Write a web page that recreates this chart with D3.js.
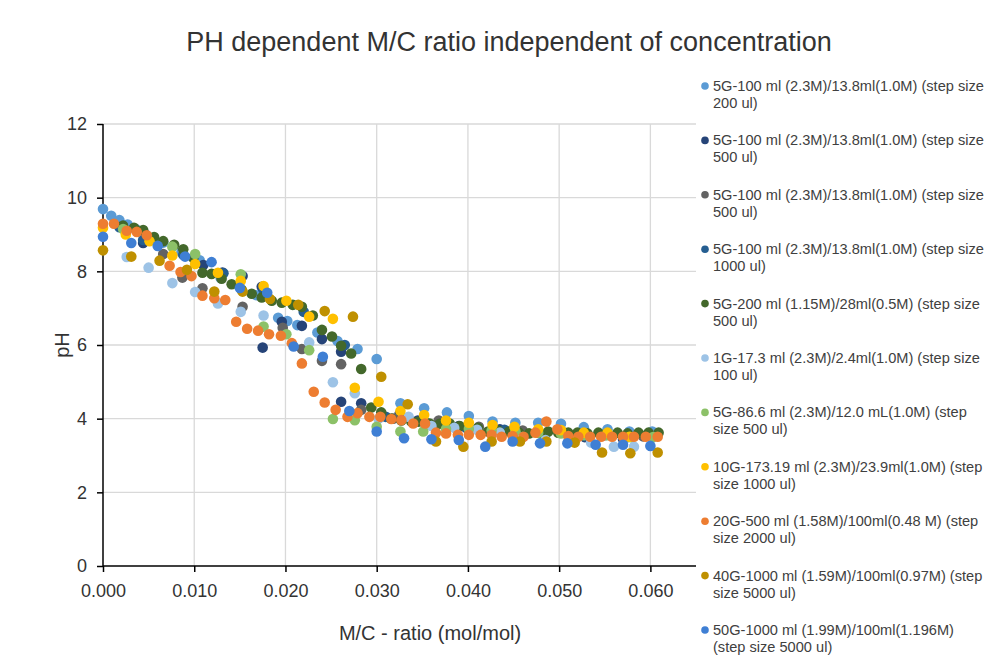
<!DOCTYPE html>
<html>
<head>
<meta charset="utf-8">
<script src="https://cdn.jsdelivr.net/npm/d3@7"></script>
<style>
  body { margin: 0; background: #fff; }
  svg text { font-family: "Liberation Sans", Arial, sans-serif; }
</style>
</head>
<body>
<div id="chart"></div>
<script>
// Series values (x = M/C ratio, y = pH)
const s1 = [[0,9.69],[0.0009,9.51],[0.0018,9.39],[0.0027,9.27],[0.0036,9.15],[0.0046,9.02],[0.0056,8.9],[0.0066,8.78],[0.0086,8.52],[0.0106,8.3],[0.0129,7.82],[0.0149,7.6],[0.0168,7.35],[0.0192,6.74],[0.0202,6.65],[0.0213,6.54],[0.0235,6.34],[0.0257,6.11],[0.0279,5.89],[0.03,5.62],[0.0326,4.42],[0.0352,4.28],[0.0377,4.17],[0.0401,4.07],[0.0427,3.92],[0.0452,3.89],[0.0477,3.89],[0.0502,3.86],[0.0527,3.77],[0.0553,3.71],[0.0577,3.65],[0.0602,3.65]];
const s2 = [[0.0044,8.77],[0.011,8.17],[0.0131,7.97],[0.0153,7.87],[0.0174,7.58],[0.0175,5.93],[0.0196,6.63],[0.0218,6.52],[0.024,6.16],[0.0261,5.82],[0.0261,4.46],[0.0283,4.42],[0.0305,4.1],[0.0325,4.12],[0.0345,3.95],[0.039,3.8],[0.0435,3.71],[0.048,3.6],[0.0528,3.5],[0.057,3.45]];
const s3 = [[0.0066,8.47],[0.0087,7.83],[0.0109,7.54],[0.0153,7.04],[0.0197,6.47],[0.0218,5.89],[0.024,5.57],[0.0261,5.48],[0.0283,4.24],[0.0318,4.0],[0.0368,3.95],[0.0412,3.78],[0.046,3.68],[0.0505,3.62],[0.055,3.55],[0.0592,3.52]];
const s4 = [[0.0018,9.2],[0.0044,8.85],[0.0088,8.45],[0.0132,7.95],[0.0176,7.5],[0.022,6.9],[0.0265,6.0],[0.031,4.05],[0.0353,3.9],[0.0398,3.75],[0.044,3.7],[0.0485,3.58],[0.053,3.52],[0.0575,3.5]];
const s5 = [[0.0022,9.24],[0.0034,9.18],[0.0044,9.12],[0.0056,8.93],[0.0066,8.82],[0.0078,8.72],[0.0088,8.6],[0.0099,8.36],[0.0109,7.96],[0.0119,7.93],[0.013,7.8],[0.0141,7.65],[0.0152,7.5],[0.0163,7.39],[0.0174,7.29],[0.0185,7.2],[0.0196,7.15],[0.0208,7.09],[0.0218,7.04],[0.023,6.8],[0.024,6.41],[0.0251,6.23],[0.0261,5.98],[0.0272,5.77],[0.0283,5.35],[0.0294,4.3],[0.0305,4.17],[0.0316,4.0],[0.0327,3.95],[0.0338,3.92],[0.0346,3.92],[0.0358,3.87],[0.0369,3.86],[0.038,3.87],[0.0391,3.8],[0.0401,3.71],[0.0411,3.75],[0.0422,3.65],[0.0433,3.68],[0.0445,3.65],[0.0456,3.62],[0.0467,3.6],[0.0478,3.62],[0.0488,3.65],[0.0499,3.62],[0.051,3.62],[0.052,3.62],[0.0531,3.6],[0.0543,3.62],[0.0553,3.6],[0.0564,3.62],[0.0575,3.6],[0.0587,3.62],[0.0598,3.62],[0.0609,3.62]];
const s6 = [[0.0026,8.39],[0.005,8.1],[0.0076,7.68],[0.0101,7.44],[0.0126,7.13],[0.0151,6.9],[0.0176,6.8],[0.0226,6.07],[0.0252,4.99],[0.0276,4.69],[0.0302,4.0],[0.0335,4.05],[0.036,3.8],[0.0385,3.75],[0.041,3.7],[0.0435,3.62],[0.046,3.5],[0.0485,3.42],[0.051,3.4],[0.0535,3.35],[0.056,3.24],[0.0582,3.24]];
const s7 = [[0.0022,9.15],[0.0076,8.67],[0.0101,8.47],[0.0151,7.92],[0.0176,6.5],[0.0201,6.29],[0.0226,5.86],[0.0252,3.99],[0.0276,3.96],[0.03,3.78],[0.0326,3.65],[0.0351,3.65],[0.0376,3.72],[0.0401,3.72],[0.0426,3.68],[0.0452,3.66],[0.0477,3.62],[0.0502,3.6],[0.0527,3.55],[0.0553,3.55],[0.0578,3.5],[0.0603,3.5]];
const s8 = [[0,9.18],[0.0025,9.0],[0.0051,8.82],[0.0076,8.43],[0.0101,8.2],[0.0126,7.96],[0.0151,7.74],[0.0176,7.6],[0.0201,7.2],[0.0226,6.77],[0.0252,6.71],[0.0276,4.84],[0.0302,4.46],[0.0326,4.21],[0.0352,4.1],[0.0376,3.95],[0.0401,3.89],[0.0427,3.83],[0.0451,3.78],[0.0477,3.71],[0.0502,3.69],[0.0527,3.62],[0.0553,3.62],[0.0577,3.51]];
const s9 = [[0,9.29],[0.0012,9.29],[0.0026,9.1],[0.0037,9.07],[0.0048,8.98],[0.0073,8.15],[0.0085,7.98],[0.0097,7.87],[0.0109,7.34],[0.0122,7.27],[0.0134,7.22],[0.0146,6.63],[0.0158,6.44],[0.017,6.39],[0.0182,6.29],[0.0195,6.25],[0.0207,6.05],[0.0218,5.5],[0.0231,4.73],[0.0243,4.44],[0.0255,4.24],[0.0268,4.05],[0.0279,4.15],[0.0292,4.05],[0.0304,4.05],[0.0316,3.99],[0.0327,3.96],[0.034,3.87],[0.0353,3.87],[0.0365,3.62],[0.0376,3.6],[0.0389,3.56],[0.0401,3.56],[0.0414,3.56],[0.0426,3.56],[0.0437,3.51],[0.0449,3.53],[0.0461,3.51],[0.0474,3.62],[0.0486,3.92],[0.0498,3.71],[0.051,3.53],[0.0521,3.51],[0.0534,3.51],[0.0546,3.51],[0.0558,3.51],[0.057,3.51],[0.0582,3.51],[0.0595,3.51],[0.0608,3.51]];
const s10 = [[0,8.57],[0.0031,8.4],[0.0062,8.29],[0.0092,8.04],[0.0122,7.45],[0.0153,7.45],[0.0183,7.25],[0.0214,7.09],[0.0243,6.92],[0.0274,6.77],[0.0305,5.14],[0.0334,4.39],[0.0365,3.38],[0.0395,3.24],[0.0426,3.38],[0.0457,3.38],[0.0486,3.38],[0.0517,3.35],[0.0547,3.08],[0.0578,3.06],[0.0608,3.08]];
const s11 = [[0,8.94],[0.0031,8.77],[0.006,8.69],[0.009,8.4],[0.0119,8.25],[0.015,7.55],[0.018,7.42],[0.0209,5.96],[0.0241,5.68],[0.027,4.21],[0.03,3.65],[0.033,3.47],[0.036,3.44],[0.039,3.42],[0.0419,3.24],[0.0449,3.38],[0.0479,3.33],[0.0509,3.33],[0.054,3.29],[0.057,3.29],[0.06,3.26]];

const seriesData = [s1, s2, s3, s4, s5, s6, s7, s8, s9, s10, s11];

const seriesNames = [
  ["5G-100 ml (2.3M)/13.8ml(1.0M) (step size", "200 ul)"],
  ["5G-100 ml (2.3M)/13.8ml(1.0M) (step size", "500 ul)"],
  ["5G-100 ml (2.3M)/13.8ml(1.0M) (step size", "500 ul)"],
  ["5G-100 ml (2.3M)/13.8ml(1.0M) (step size", "1000 ul)"],
  ["5G-200 ml (1.15M)/28ml(0.5M) (step size", "500 ul)"],
  ["1G-17.3 ml (2.3M)/2.4ml(1.0M) (step size", "100 ul)"],
  ["5G-86.6 ml (2.3M)/12.0 mL(1.0M) (step", "size 500 ul)"],
  ["10G-173.19 ml (2.3M)/23.9ml(1.0M) (step", "size 1000 ul)"],
  ["20G-500 ml (1.58M)/100ml(0.48 M) (step", "size 2000 ul)"],
  ["40G-1000 ml (1.59M)/100ml(0.97M) (step", "size 5000 ul)"],
  ["50G-1000 ml (1.99M)/100ml(1.196M)", "(step size 5000 ul)"]
];

const seriesColors = ["#5B9BD5", "#264478", "#636363", "#255E91", "#43682B", "#9DC3E6",
                      "#8CC168", "#FFC000", "#ED7D31", "#BF9000", "#3F7FD4"];

const xTicks = [0, 0.01, 0.02, 0.03, 0.04, 0.05, 0.06];
const yTicks = [0, 2, 4, 6, 8, 10, 12];

const width = 995, height = 669;
const plot = { left: 103, right: 696, top: 124, bottom: 566 };

const svg = d3.select("#chart").append("svg")
  .attr("width", width)
  .attr("height", height);

svg.append("rect").attr("width", width).attr("height", height).attr("fill", "#fff");

const x = d3.scaleLinear().domain([0, 0.065]).range([plot.left, plot.right]);
const y = d3.scaleLinear().domain([0, 12]).range([plot.bottom, plot.top]);

// gridlines
svg.append("g")
  .selectAll("line.hgrid")
  .data(yTicks.filter(d => d > 0))
  .enter().append("line")
  .attr("x1", plot.left).attr("x2", plot.right)
  .attr("y1", d => y(d)).attr("y2", d => y(d))
  .attr("stroke", "#d9d9d9").attr("stroke-width", 1.3);

svg.append("g")
  .selectAll("line.vgrid")
  .data(xTicks.filter(d => d > 0))
  .enter().append("line")
  .attr("x1", d => x(d)).attr("x2", d => x(d))
  .attr("y1", plot.top).attr("y2", plot.bottom)
  .attr("stroke", "#d9d9d9").attr("stroke-width", 1.3);

// axes
const xAxis = svg.append("g")
  .attr("transform", `translate(0,${plot.bottom})`)
  .call(d3.axisBottom(x).tickValues(xTicks).tickFormat(d3.format(".3f")).tickSize(6).tickPadding(12));

const yAxis = svg.append("g")
  .attr("transform", `translate(${plot.left},0)`)
  .call(d3.axisLeft(y).tickValues(yTicks).tickFormat(d3.format("d")).tickSize(6).tickPadding(10));

[xAxis, yAxis].forEach(ax => {
  ax.select(".domain").attr("stroke", "#000").attr("stroke-width", 1.5);
  ax.selectAll(".tick line").attr("stroke", "#000").attr("stroke-width", 1.5);
  ax.selectAll(".tick text").attr("fill", "#333").style("font-size", "18px");
});
// d3's domain path adds outer ticks; redraw it as a plain line
xAxis.select(".domain").attr("d", `M${plot.left},0H${plot.right}`);
yAxis.select(".domain").attr("d", `M0,${plot.top}V${plot.bottom}`);

// points
seriesData.forEach((pts, i) => {
  svg.append("g")
    .selectAll("circle")
    .data(pts)
    .enter().append("circle")
    .attr("cx", d => x(d[0]))
    .attr("cy", d => y(d[1]))
    .attr("r", 5.3)
    .attr("fill", seriesColors[i]);
});

// titles
svg.append("text")
  .attr("x", 509).attr("y", 51)
  .attr("text-anchor", "middle")
  .attr("fill", "#333")
  .style("font-size", "27px")
  .text("PH dependent M/C ratio independent of concentration");

svg.append("text")
  .attr("x", 430).attr("y", 640)
  .attr("text-anchor", "middle")
  .attr("fill", "#333")
  .style("font-size", "20px")
  .text("M/C - ratio (mol/mol)");

svg.append("text")
  .attr("transform", "translate(69,345) rotate(-90)")
  .attr("text-anchor", "middle")
  .attr("fill", "#333")
  .style("font-size", "20px")
  .text("pH");

// legend
const legend = svg.append("g").attr("transform", "translate(705,86)");
const entries = legend.selectAll("g")
  .data(seriesNames)
  .enter().append("g")
  .attr("transform", (d, i) => `translate(0,${i * 54.4})`);

entries.append("circle")
  .attr("r", 3.8)
  .attr("fill", (d, i) => seriesColors[i]);

entries.append("text")
  .attr("x", 8).attr("y", 5)
  .attr("fill", "#404040")
  .style("font-size", "14.6px")
  .text(d => d[0]);

entries.append("text")
  .attr("x", 8).attr("y", 22)
  .attr("fill", "#404040")
  .style("font-size", "14.6px")
  .text(d => d[1]);
</script>
</body>
</html>
